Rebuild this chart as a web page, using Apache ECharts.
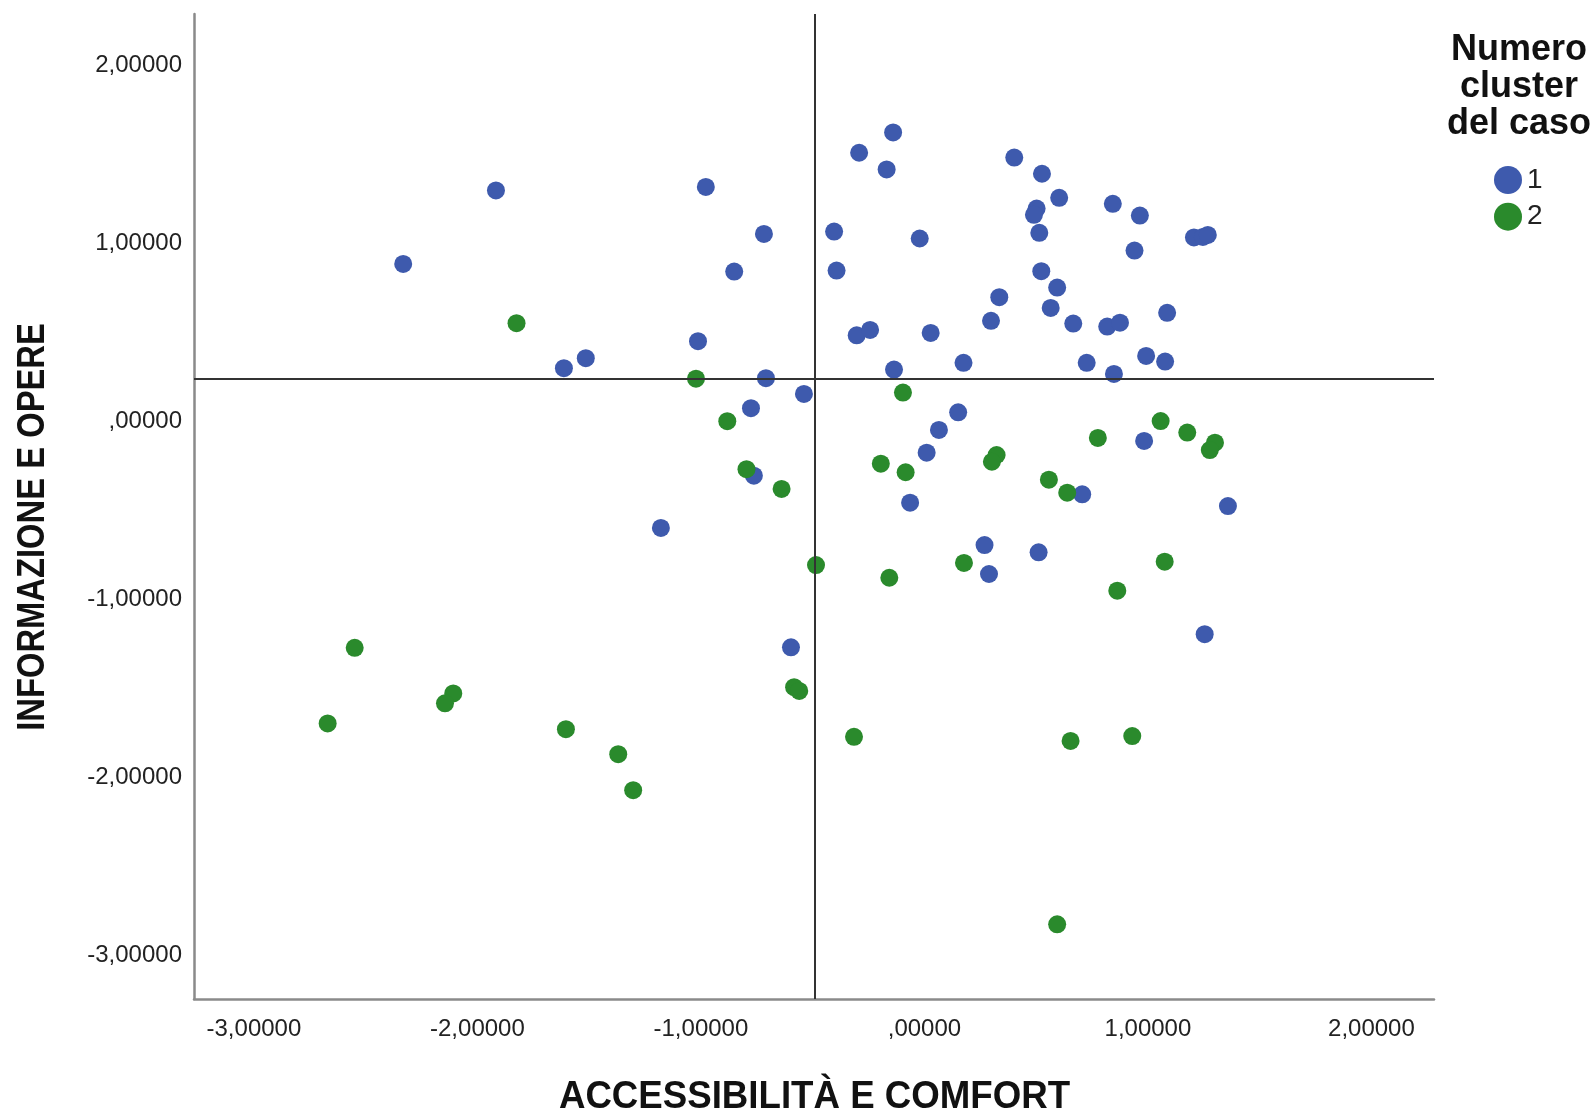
<!DOCTYPE html>
<html>
<head>
<meta charset="utf-8">
<script src="https://cdn.jsdelivr.net/npm/echarts@6/dist/echarts.min.js"></script>
<style>
html,body{margin:0;padding:0;background:#fff;}
#chart{width:1593px;height:1110px;}
</style>
</head>
<body>
<div id="chart"></div>
<script>
// Cluster 1 (blue)
var blueX = [-1.917,-2.332,-1.613,-1.515,-0.978,-0.718,-0.851,-1.013,-0.709,-0.539,-0.776,-0.763,-1.179,
  -0.140,-0.292,-0.169,0.402,-0.404,-0.021,-0.393,0.335,0.298,-0.303,-0.243,0.028,0.175,-0.136,0.151,0.065,0.010,-0.064,0.269,0.289,
  0.526,0.603,0.502,0.490,0.514,0.843,0.964,0.940,1.206,1.246,1.268,0.523,0.594,0.565,0.666,0.818,0.875,1.086,0.726,0.848,0.992,1.077,0.983,0.706,1.358,0.511,1.254,-0.597];
var blueY = [1.299,0.886,0.300,0.356,1.319,1.055,0.843,0.452,0.244,0.155,0.075,-0.304,-0.598,
  1.625,1.511,1.417,1.484,1.068,1.029,0.849,0.699,0.566,0.485,0.515,0.498,0.330,0.292,0.052,-0.047,-0.175,-0.456,-0.694,-0.857,
  1.393,1.258,1.197,1.162,1.061,1.224,1.158,0.961,1.035,1.038,1.049,0.845,0.753,0.639,0.551,0.534,0.556,0.611,0.330,0.268,0.369,0.337,-0.109,-0.409,-0.475,-0.735,-1.195,-1.269];
// Cluster 2 (green)
var greenX = [-1.825,-1.022,-0.882,-0.796,-0.639,-0.096,-0.195,-0.084,0.323,0.302,-0.485,0.177,-0.157,1.057,0.776,1.176,1.300,1.277,0.557,0.639,1.075,0.863,0.654,0.930,0.594,-0.583,-0.560,-0.315,-1.370,-1.303,-2.549,-2.670,-2.108,-2.145,-1.604];
var greenY = [0.553,0.241,0.002,-0.268,-0.379,0.163,-0.237,-0.285,-0.188,-0.226,-0.807,-0.795,-0.878,0.003,-0.092,-0.062,-0.119,-0.160,-0.327,-0.400,-0.788,-0.951,-1.795,-1.768,-2.826,-1.493,-1.514,-1.772,-1.870,-2.072,-1.272,-1.697,-1.528,-1.584,-1.729];
// Reference lines
var refX = -0.490;
var refY = 0.2435;
// Axis extents
var xMin = -3.268, xMax = 2.280;
var yMin = -3.246, yMax = 2.291;
var seriesNames = ['1', '2'];
var xTitle = 'ACCESSIBILITÀ E COMFORT';
var yTitle = 'INFORMAZIONE E OPERE';
var legendTitle = 'Numero\ncluster\ndel caso';

function zip(a, b) { return a.map(function (v, i) { return [v, b[i]]; }); }
function fmt(v) {
  if (Math.abs(v) < 1e-9) return ',00000';
  return v.toFixed(5).replace('.', ',');
}

var chart = echarts.init(document.getElementById('chart'), null, {renderer: 'canvas'});
var labelFont = {fontFamily: 'Liberation Sans, Arial, sans-serif', fontSize: 24, color: '#222'};

chart.setOption({
  animation: false,
  backgroundColor: '#fff',
  grid: {left: 194, right: 159, top: 14, bottom: 111, containLabel: false},
  xAxis: {
    type: 'value', min: xMin, max: xMax, splitNumber: 5,
    axisLine: {show: true, onZero: false, lineStyle: {color: '#8a8a8a', width: 2.5}},
    axisTick: {show: false},
    splitLine: {show: false},
    axisLabel: Object.assign({margin: 18, showMinLabel: false, showMaxLabel: false, formatter: fmt}, labelFont)
  },
  yAxis: {
    type: 'value', min: yMin, max: yMax, splitNumber: 5,
    axisLine: {show: true, onZero: false, lineStyle: {color: '#8a8a8a', width: 2.5}},
    axisTick: {show: false},
    splitLine: {show: false},
    axisLabel: Object.assign({margin: 12, showMinLabel: false, showMaxLabel: false, formatter: fmt}, labelFont)
  },
  legend: {
    orient: 'vertical', left: 1489, top: 161,
    itemWidth: 28, itemHeight: 28, itemGap: 8.7,
    icon: 'circle',
    data: seriesNames,
    textStyle: {fontFamily: 'Liberation Sans, Arial, sans-serif', fontSize: 28, color: '#222'}
  },
  graphic: [
    {type: 'text', x: 1519, y: 32, style: {text: legendTitle, fontFamily: 'Liberation Sans, Arial, sans-serif', fontWeight: 'bold', fontSize: 36, lineHeight: 37, fill: '#111', align: 'center', verticalAlign: 'top'}},
    {type: 'text', x: 814.5, y: 1097, scaleX: 0.94, style: {text: xTitle, fontFamily: 'Liberation Sans, Arial, sans-serif', fontWeight: 'bold', fontSize: 39, fill: '#111', align: 'center', verticalAlign: 'middle'}},
    {type: 'text', x: 33.5, y: 527, rotation: Math.PI / 2, scaleX: 0.84, style: {text: yTitle, fontFamily: 'Liberation Sans, Arial, sans-serif', fontWeight: 'bold', fontSize: 39, fill: '#111', align: 'center', verticalAlign: 'middle'}}
  ],
  series: [
    {
      name: seriesNames[0], type: 'scatter', symbol: 'circle', symbolSize: 18,
      itemStyle: {color: '#3e5aad', opacity: 1},
      data: zip(blueX, blueY),
      markLine: {
        silent: true, symbol: 'none', label: {show: false},
        lineStyle: {color: '#333', width: 2, type: 'solid', opacity: 1},
        data: [{xAxis: refX}, {yAxis: refY}]
      }
    },
    {
      name: seriesNames[1], type: 'scatter', symbol: 'circle', symbolSize: 18,
      itemStyle: {color: '#2a8a2c', opacity: 1},
      data: zip(greenX, greenY)
    }
  ]
});
</script>
</body>
</html>
